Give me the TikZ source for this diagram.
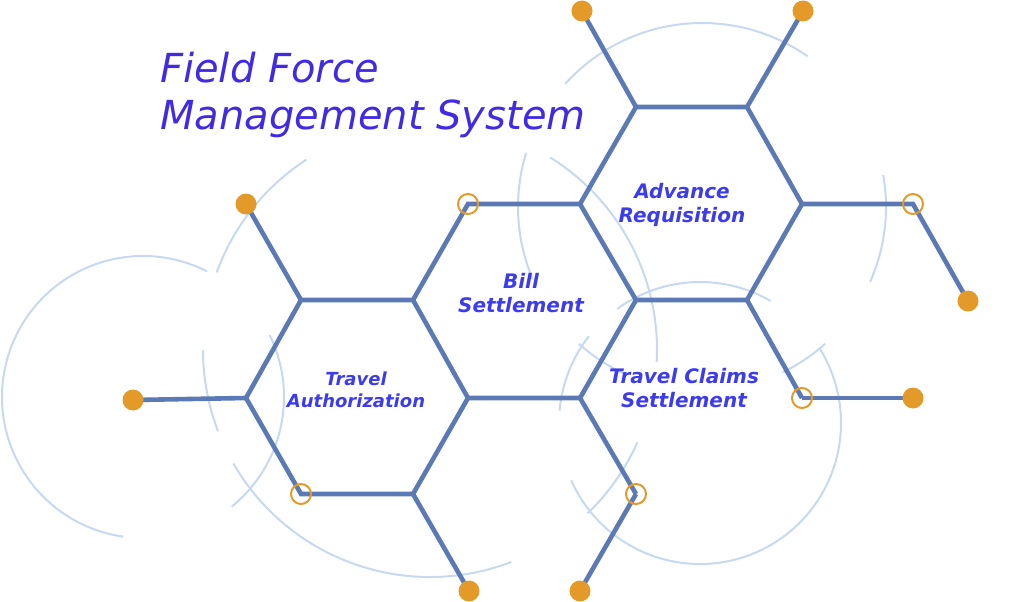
\documentclass[tikz,border=0pt]{standalone}
\usepackage{fontspec}
\setmainfont{DejaVu Sans}
\usetikzlibrary{backgrounds}
\definecolor{hexblue}{RGB}{90,121,181}
\definecolor{dotorange}{RGB}{227,154,40}
\definecolor{faintblue}{RGB}{198,217,240}
\definecolor{titleblue}{RGB}{64,42,228}
\definecolor{labelblue}{RGB}{60,60,238}

\begin{document}
\begin{tikzpicture}[x=1pt,y=-1pt]
	% `enddot' is used for the filled ends of the spokes.
	% `joint' is used for the open rings on the corners.
	\tikzstyle{hexline} = [draw=hexblue,line width=4.6pt]
	\tikzstyle{enddot} = [fill=dotorange,shape=circle,minimum size=21pt,inner sep=0pt]
	\tikzstyle{joint} = [draw=dotorange,shape=circle,line width=2pt,minimum size=20pt,inner sep=0pt]
	\tikzstyle{faintarc} = [draw=faintblue,line width=2pt]
	\tikzstyle{hexlabel} = [text=labelblue,align=center,font=\bfseries\itshape\fontsize{20}{24}\selectfont]
	\tikzstyle{title} = [text=titleblue,inner sep=0pt,font=\itshape\fontsize{40}{48}\selectfont]
	\useasboundingbox (0,0) rectangle (1033,602);
	%
	% Hexagon corners.
	\coordinate (ta0) at (246,398);
	\coordinate (ta1) at (301,300);
	\coordinate (ta2) at (413,300);
	\coordinate (ta3) at (468,398);
	\coordinate (ta4) at (413,494);
	\coordinate (ta5) at (301,494);
	\coordinate (bs1) at (468,204);
	\coordinate (bs2) at (580,204);
	\coordinate (bs3) at (636,300);
	\coordinate (bs4) at (580,398);
	\coordinate (ar1) at (636,107);
	\coordinate (ar2) at (747,107);
	\coordinate (ar3) at (802,204);
	\coordinate (ar4) at (747,300);
	\coordinate (tc3) at (802,398);
	\coordinate (tc5) at (636,494);
	%
	% Dots and rings.
	\node[enddot] (d1) at (133,400) {};
	\node[enddot] (d2) at (246,204) {};
	\node[enddot] (d3) at (469,591) {};
	\node[enddot] (d4) at (580,591) {};
	\node[enddot] (d5) at (582,11) {};
	\node[enddot] (d6) at (803,11) {};
	\node[enddot] (d7) at (968,301) {};
	\node[enddot] (d8) at (913,398) {};
	\node[joint] (j1) at (ta5) {};
	\node[joint] (j2) at (bs1) {};
	\node[joint] (j3) at (913,204) {};
	\node[joint] (j4) at (tc3) {};
	\node[joint] (j5) at (tc5) {};
	%
	% Labels.
	\node[title,anchor=base west] (title1) at (160,82) {Field Force};
	\node[title,anchor=base west] (title2) at (160,129) {Management System};
	\node[hexlabel] (arlabel) at (682,205) {Advance\\Requisition};
	\node[hexlabel] (bslabel) at (521,293) {Bill\\Settlement};
	\node[hexlabel] (tclabel) at (684,388) {Travel Claims\\Settlement};
	\node[hexlabel,font=\bfseries\itshape\fontsize{18}{22}\selectfont] (talabel) at (356,390) {Travel\\Authorization};
	%
	\begin{pgfonlayer}{background}
		% Faint circles behind the hexagons.
		\draw[faintarc] (143,397) ++(-63:141) arc (-63:-262:141);
		\draw[faintarc] (143,397) ++(51:141) arc (51:-26:141);
		\draw[faintarc] (430,350) ++(-123:227) arc (-123:-160:227);
		\draw[faintarc] (430,350) ++(-180:227) arc (-180:-201:227);
		\draw[faintarc] (430,350) ++(-210:227) arc (-210:-291:227);
		\draw[faintarc] (430,350) ++(46:227) arc (46:24:227);
		\draw[faintarc] (430,350) ++(3:227) arc (3:-58:227);
		\draw[faintarc] (702,207) ++(-55:184) arc (-55:-138:184);
		\draw[faintarc] (702,207) ++(24:184) arc (24:-10:184);
		\draw[faintarc] (702,207) ++(-163:184) arc (-163:-203:184);
		\draw[faintarc] (702,207) ++(-228:184) arc (-228:-245:184);
		\draw[faintarc] (702,207) ++(-296:184) arc (-296:-312:184);
		\draw[faintarc] (700,423) ++(-60:141) arc (-60:-126:141);
		\draw[faintarc] (700,423) ++(-142:141) arc (-142:-175:141);
		\draw[faintarc] (700,423) ++(-204:141) arc (-204:-392:141);
		% Hexagons.
		\draw[hexline] (ta0) -- (ta1) -- (ta2) -- (ta3) -- (ta4) -- (ta5) -- cycle;
		\draw[hexline] (ta2) -- (bs1) -- (bs2) -- (bs3) -- (bs4) -- (ta3);
		\draw[hexline] (bs2) -- (ar1) -- (ar2) -- (ar3) -- (ar4) -- (bs3);
		\draw[hexline] (ar4) -- (tc3);
		\draw[hexline] (bs4) -- (tc5);
		% Spokes.
		\draw[hexline] (ta0) -- (d1.center);
		\draw[hexline] (ta1) -- (d2.center);
		\draw[hexline] (ta4) -- (d3.center);
		\draw[hexline] (tc5) -- (d4.center);
		\draw[hexline] (ar1) -- (d5.center);
		\draw[hexline] (ar2) -- (d6.center);
		\draw[hexline] (ar3) -- (j3.center) -- (d7.center);
		\draw[hexline] (tc3) -- (d8.center);
	\end{pgfonlayer}
%
\end{tikzpicture}
\end{document}
